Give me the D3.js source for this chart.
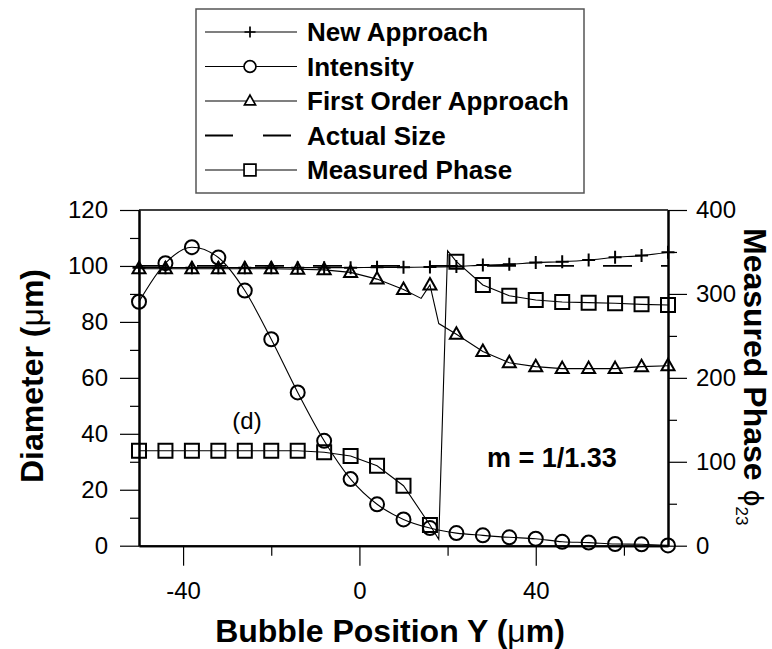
<!DOCTYPE html>
<html>
<head>
<meta charset="utf-8">
<script src="https://cdn.jsdelivr.net/npm/d3@7"></script>
<style>
  body { margin: 0; background: #fff; }
  text { font-family: "Liberation Sans", Arial, sans-serif; fill: #000; }
</style>
</head>
<body>
<div id="chart"></div>
<script>
// Marker positions (bubble position, um)
const markX = [-50, -44, -38, -32, -26, -20, -14, -8, -2, 4, 10, 16, 22, 28, 34, 40, 46, 52, 58, 64, 70];

// Diameter series (left axis)
const newApproach = [99.4, 99.4, 99.4, 99.4, 99.4, 99.4, 99.4, 99.4, 99.4, 99.5, 99.5, 99.6, 99.8, 100.3, 100.6, 101.2, 101.5, 102.1, 103.1, 103.7, 104.9];
const intensity = [87.2, 101, 106.7, 103, 91.2, 73.8, 54.8, 37.5, 23.8, 14.8, 9.4, 6.3, 4.5, 3.7, 3.0, 2.5, 1.4, 1.1, 0.6, 0.5, 0.1];
const firstOrder = [99, 99, 99, 99, 99, 99, 98.8, 98.6, 97.7, 95.3, 91.6, 93.2, 75.6, 69.4, 65.4, 64.0, 63.3, 63.3, 63.3, 64.0, 64.3];
const firstOrderExtra = [[14, 88.4], [18, 79.4]]; // line-only points, no marker
const actualX = [-50, 70];
const actualY = [100, 100];

// Measured phase (right axis)
const measuredPhase = [113.2, 113.2, 113.2, 113.2, 113.2, 113.2, 113.2, 111.3, 106.9, 95.3, 71.5, 24.7, 338.4, 310.6, 297.9, 292.8, 290.4, 289.6, 288.8, 287.6, 286.8];
const phaseExtra = [[18, 7.6], [20, 351.5]]; // line-only points, no marker

// Tick values
const xTicks = [-40, 0, 40];
const xMinor = [-20, 20, 60];
const leftTicks = [0, 20, 40, 60, 80, 100, 120];
const leftMinor = [10, 30, 50, 70, 90, 110];
const rightTicks = [0, 100, 200, 300, 400];
const rightMinor = [50, 150, 250, 350];

const W = 772, H = 649;
const plot = { left: 139, right: 668, top: 210, bottom: 545.7 };

const svg = d3.select("#chart").append("svg")
    .attr("width", W)
    .attr("height", H);

svg.append("rect").attr("width", W).attr("height", H).attr("fill", "#fff");

const x = d3.scaleLinear().domain([-50, 70]).range([plot.left, plot.right]);
const yL = d3.scaleLinear().domain([0, 120]).range([plot.bottom, plot.top]);
const yR = d3.scaleLinear().domain([0, 400]).range([plot.bottom, plot.top]);

const plain = d => String(d); // keep ASCII hyphen for negatives

// Axes
function styleAxis(g) {
    g.select(".domain").attr("stroke", "#000").attr("stroke-width", 2);
    g.selectAll(".tick line").attr("stroke", "#000").attr("stroke-width", 1.2);
    g.selectAll(".tick text").attr("font-size", 24).attr("font-family", "Liberation Sans, Arial, sans-serif");
}

svg.append("g")
    .attr("transform", `translate(${plot.left},0)`)
    .call(d3.axisLeft(yL).tickValues(leftTicks).tickFormat(plain).tickSize(19).tickSizeOuter(0).tickPadding(12))
    .call(styleAxis);
svg.append("g")
    .attr("transform", `translate(${plot.left},0)`)
    .call(d3.axisLeft(yL).tickValues(leftMinor).tickSize(9).tickSizeOuter(0).tickFormat(""))
    .call(styleAxis);

svg.append("g")
    .attr("transform", `translate(${plot.right},0)`)
    .call(d3.axisRight(yR).tickValues(rightTicks).tickFormat(plain).tickSize(19).tickSizeOuter(0).tickPadding(9))
    .call(styleAxis);
svg.append("g")
    .attr("transform", `translate(${plot.right},0)`)
    .call(d3.axisRight(yR).tickValues(rightMinor).tickSize(9).tickSizeOuter(0).tickFormat(""))
    .call(styleAxis);

svg.append("g")
    .attr("transform", `translate(0,${plot.bottom})`)
    .call(d3.axisBottom(x).tickValues(xTicks).tickFormat(plain).tickSize(20).tickSizeOuter(0).tickPadding(16))
    .call(styleAxis);
svg.append("g")
    .attr("transform", `translate(0,${plot.bottom})`)
    .call(d3.axisBottom(x).tickValues(xMinor).tickSize(10).tickSizeOuter(0).tickFormat(""))
    .call(styleAxis);

// top frame line
svg.append("line")
    .attr("x1", plot.left).attr("x2", plot.right)
    .attr("y1", plot.top).attr("y2", plot.top)
    .attr("stroke", "#000").attr("stroke-width", 1.5);

// Axis titles
svg.append("text")
    .attr("transform", `translate(43,376) rotate(-90)`)
    .attr("text-anchor", "middle")
    .attr("font-size", 32)
    .attr("font-weight", "bold")
    .call(t => {
        t.append("tspan").text("Diameter (");
        t.append("tspan").attr("font-weight", "normal").text("μ");
        t.append("tspan").text("m)");
    });

svg.append("text")
    .attr("x", 390).attr("y", 642)
    .attr("text-anchor", "middle")
    .attr("font-size", 32)
    .attr("font-weight", "bold")
    .call(t => {
        t.append("tspan").text("Bubble Position Y (");
        t.append("tspan").attr("font-weight", "normal").text("μ");
        t.append("tspan").text("m)");
    });

svg.append("text")
    .attr("transform", `translate(744,228) rotate(90)`)
    .attr("font-size", 32)
    .attr("font-weight", "bold")
    .call(t => {
        t.append("tspan").text("Measured Phase ");
        t.append("tspan").attr("font-weight", "normal").attr("font-size", 26)
            .attr("font-family", "DejaVu Sans, sans-serif").text("ϕ");
        t.append("tspan").attr("font-weight", "normal").attr("font-size", 17).attr("dy", 8).text("23");
    });

// Annotations
svg.append("text").attr("x", 247).attr("y", 429).attr("text-anchor", "middle")
    .attr("font-size", 24).text("(d)");
svg.append("text").attr("x", 487).attr("y", 467)
    .attr("font-size", 27).attr("font-weight", "bold").text("m = 1/1.33");

// Build series
const pts = (xs, ys) => xs.map((d, i) => [d, ys[i]]);
const withExtra = (base, extra) => base.concat(extra).sort((a, b) => a[0] - b[0]);

const lineL = d3.line().x(d => x(d[0])).y(d => yL(d[1]));
const lineR = d3.line().x(d => x(d[0])).y(d => yR(d[1]));
const smoothL = d3.line().x(d => x(d[0])).y(d => yL(d[1])).curve(d3.curveMonotoneX);

const plotG = svg.append("g");

function drawLine(data, gen, dash) {
    plotG.append("path")
        .datum(data)
        .attr("d", gen)
        .attr("fill", "none")
        .attr("stroke", "#000")
        .attr("stroke-width", dash ? 1.8 : 1.1)
        .attr("stroke-dasharray", dash || null);
}

const markerPaths = {
    plus: "M-6.5,0H6.5M0,-6.5V6.5",
    circle: "M7,0A7,7 0 1,1 -7,0A7,7 0 1,1 7,0Z",
    triangle: "M0,-7L6.5,4.5H-6.5Z",
    square: "M-7,-7H7V7H-7Z"
};

function drawMarkers(data, ys, type) {
    plotG.selectAll(null)
        .data(data)
        .enter()
        .append("path")
        .attr("transform", d => `translate(${x(d[0])},${ys(d[1])})`)
        .attr("d", markerPaths[type])
        .attr("fill", "none")
        .attr("stroke", "#000")
        .attr("stroke-width", 2);
}

drawLine(pts(actualX, actualY), lineL, "29,29");

const naPts = pts(markX, newApproach);
drawLine(naPts, smoothL);
drawMarkers(naPts, yL, "plus");

const inPts = pts(markX, intensity);
drawLine(inPts, smoothL);
drawMarkers(inPts, yL, "circle");

const foPts = pts(markX, firstOrder);
drawLine(withExtra(foPts, firstOrderExtra), lineL);
drawMarkers(foPts, yL, "triangle");

const mpPts = pts(markX, measuredPhase);
drawLine(withExtra(mpPts, phaseExtra), lineR);
drawMarkers(mpPts, yR, "square");

// Legend
const legend = svg.append("g");
legend.append("rect")
    .attr("x", 196).attr("y", 9).attr("width", 388).attr("height", 184)
    .attr("fill", "#fff").attr("stroke", "#555").attr("stroke-width", 1.5);

const legendItems = [
    { name: "New Approach", type: "plus" },
    { name: "Intensity", type: "circle" },
    { name: "First Order Approach", type: "triangle" },
    { name: "Actual Size", type: null },
    { name: "Measured Phase", type: "square" }
];

legendItems.forEach((item, i) => {
    const cy = 32 + i * 34.5;
    const g = legend.append("g").attr("transform", `translate(0,${cy})`);
    g.append("line")
        .attr("x1", 205).attr("x2", 297).attr("y1", 0).attr("y2", 0)
        .attr("stroke", "#000")
        .attr("stroke-width", item.type ? 1.1 : 1.8)
        .attr("stroke-dasharray", item.type ? null : "28,30");
    if (item.type) {
        g.append("path")
            .attr("transform", "translate(250,0) scale(0.85)")
            .attr("d", markerPaths[item.type])
            .attr("fill", item.type === "plus" ? "none" : "#fff")
            .attr("stroke", "#000")
            .attr("stroke-width", 2);
    }
    g.append("text")
        .attr("x", 307).attr("y", 9)
        .attr("font-size", 26).attr("font-weight", "bold")
        .text(item.name);
});
</script>
</body>
</html>
